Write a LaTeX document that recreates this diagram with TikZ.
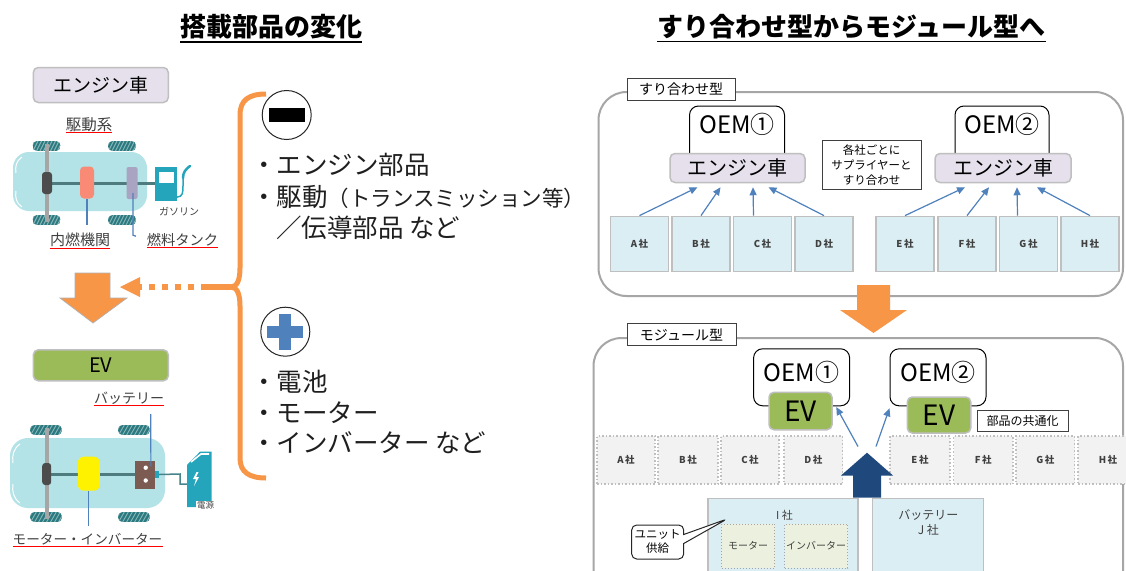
\documentclass[tikz,border=0pt]{standalone}
\usepackage{fontspec}
\setmainfont{Noto Sans CJK JP}
\usetikzlibrary{arrows.meta,calc,shapes.callouts}

\definecolor{orng}{HTML}{F79646}
\definecolor{navy}{HTML}{1F497D}
\definecolor{steel}{HTML}{4F81BD}
\definecolor{lav}{HTML}{E5E0EC}
\definecolor{grn}{HTML}{9BBB59}
\definecolor{pale}{HTML}{DBEEF4}
\definecolor{beige}{HTML}{EBF1DE}
\definecolor{panelgray}{HTML}{A6A6A6}
\definecolor{boxgray}{HTML}{BFBFBF}
\definecolor{txtgray}{HTML}{404040}
\definecolor{carbody}{HTML}{B3E3E7}
\definecolor{tyrec}{HTML}{2B7A80}
\definecolor{shaftc}{HTML}{4E7B7E}
\definecolor{pumpc}{HTML}{24A5BC}
\definecolor{enginec}{HTML}{F98B76}
\definecolor{tankc}{HTML}{A9A4C1}
\definecolor{battc}{HTML}{7B5B52}
\definecolor{motorc}{HTML}{FFF200}

\newcommand\fsz[2]{\fontsize{#1}{#2}\selectfont}

\begin{document}
\begin{tikzpicture}[x=1pt,y=-1pt,
  title/.style={font=\fsz{26}{30}\bfseries, inner xsep=0, inner ysep=2pt},
  ulbl/.style={font=\fsz{#1}{#1}, text=txtgray, inner xsep=0, inner ysep=1pt},
  redul/.style={draw=red, line width=1},
  lavbox/.style={rectangle, rounded corners=5pt, fill=lav, draw=boxgray, line width=1.5, inner sep=0},
  grnbox/.style={rectangle, rounded corners=5pt, fill=grn, draw=boxgray, line width=1.5, inner sep=0},
  oembox/.style={rectangle, rounded corners=9pt, fill=white, draw=black, line width=1, inner sep=0, font=\fsz{24}{28}},
  tagbox/.style={rectangle, fill=white, draw=txtgray, line width=1, inner sep=0, font=\fsz{14}{16}},
  supbox/.style={rectangle, fill=pale, draw=boxgray, line width=1.2, inner sep=0,
                 minimum width=58, minimum height=55, font=\fsz{9.5}{10}\bfseries, text=txtgray},
  dotbox/.style={rectangle, fill=black!5, draw=boxgray, dotted, line width=1.5, inner sep=0,
                 minimum height=48, font=\fsz{9.5}{10}\bfseries, text=txtgray},
  unitbox/.style={rectangle, fill=pale, draw=boxgray, line width=1.2, inner sep=0},
  partbox/.style={rectangle, fill=beige, draw=panelgray, dotted, line width=1, inner sep=0,
                  minimum height=44, font=\fsz{10}{12}, text=txtgray},
  panel/.style={rectangle, draw=panelgray, line width=2, rounded corners=28pt, inner sep=0},
  feed/.style={draw=steel, line width=1.2, -{Triangle[length=8pt,width=7pt]}},
  lead/.style={draw=steel, line width=1.2},
  listtxt/.style={anchor=west, inner sep=0, font=\fsz{25.5}{28}, text=black!88},
  wheelpic/.pic={
    \begin{scope}
      \clip[rounded corners=4.5pt] (-14,-5) rectangle (14,5);
      \fill[tyrec] (-14,-5) rectangle (14,5);
      \foreach \s in {-18,-14.5,...,18} \draw[white!45!tyrec, line width=0.9] (\s-2.5,5) -- (\s+2.5,-5);
    \end{scope}
  }
]
\clip (0,0) rectangle (1126,570);
\fill[white] (0,0) rectangle (1126,570);

% ---------------- headings ----------------
\node[title] (t1) at (271,27) {搭載部品の変化};
\draw[line width=1.8] (t1.south west) -- (t1.south east);
\node[title] (t2) at (851.5,27) {すり合わせ型からモジュール型へ};
\draw[line width=1.8] (t2.south west) -- (t2.south east);

% ---------------- engine car ----------------
\node[lavbox, minimum width=135, minimum height=35, font=\fsz{19}{22}] (ecar) at (100.8,85) {エンジン車};
\node[ulbl=15.5] (kudo) at (89,124.5) {駆動系};
\draw[redul] (kudo.south west) -- (kudo.south east);

\foreach \wx/\wy in {46.5/146, 122/146, 46.5/220, 122/220}
  \pic at (\wx,\wy) {wheelpic};
\fill[carbody, rounded corners=16pt] (13,152) rectangle (147,211);
\draw[white, line width=1] (22,157) .. controls (16,161) and (15,167) .. (16,173);
\draw[white, line width=1] (16,191) .. controls (15,197) and (16,203) .. (22,207);
\draw[black!35, line width=4] (46.5,144) -- (46.5,222);
\draw[shaftc, line width=3] (47,183) -- (155,183);
\node[rectangle, fill=black!70, rounded corners=3pt, minimum width=10, minimum height=22, inner sep=0] (diffa) at (47,183) {};
\node[rectangle, fill=enginec, rounded corners=4pt, minimum width=14, minimum height=32, inner sep=0] (eng) at (87,182.5) {};
\node[rectangle, fill=tankc, rounded corners=2pt, minimum width=11, minimum height=32, inner sep=0] (tank) at (132,183) {};
% fuel pump
\node[rectangle, fill=pumpc, minimum width=22, minimum height=34, inner sep=0] (pump) at (165.5,184) {};
\node[rectangle, fill=white, minimum width=15, minimum height=11, inner sep=0] (pwin) at (166.5,177.5) {};
\draw[pumpc, line width=1.5] (pump.south east) ++(0,-4) .. controls (183,197) and (183,192) .. (183,186) -- (183,178);
\draw[pumpc, line width=2.5, line cap=round] (183,178) .. controls (183,172) and (186,169) .. (190,166);
\node[font=\fsz{10}{12}, text=txtgray, inner sep=0] (gas) at (179,212) {ガソリン};

\draw[lead] (eng.south) -- ++(0,26);
\draw[lead] ($(tank.south)+(1,-6)$) -- ++(0,42) -- ++(3,1);
\node[ulbl=15] (nainen) at (80,240) {内燃機関};
\draw[redul] (nainen.south west) -- (nainen.south east);
\node[ulbl=14.3] (nenryo) at (182.5,240) {燃料タンク};
\draw[redul] (nenryo.south west) -- (nenryo.south east);

% ---------------- change arrow ----------------
\fill[orng, draw=black!30, line width=0.7] (75,273) -- (110,273) -- (110,298) -- (127,298) -- (93,323) -- (60,298) -- (75,298) -- cycle;

% ---------------- EV ----------------
\node[grnbox, minimum width=135, minimum height=31, font=\fsz{20}{24}] (evl) at (100.8,365.3) {EV};
\node[ulbl=14] (batl) at (129,398.5) {バッテリー};
\draw[redul] (batl.south west) -- (batl.south east);

\foreach \wx/\wy in {46/430, 134/430, 46/517, 134/517}
  \pic[xscale=1.14] at (\wx,\wy) {wheelpic};
\fill[carbody, rounded corners=18pt] (10,438) rectangle (165,508);
\draw[white, line width=1] (20,444) .. controls (13,449) and (12,456) .. (13,463);
\draw[white, line width=1] (13,484) .. controls (12,491) and (13,498) .. (20,503);
\draw[black!35, line width=4] (46.7,428) -- (46.7,519);
\draw[shaftc, line width=3] (47,474) -- (158,474);
\node[rectangle, fill=black!70, rounded corners=3pt, minimum width=9, minimum height=22, inner sep=0] (diffb) at (46.7,474) {};
\node[rectangle, fill=motorc, rounded corners=6pt, minimum width=22, minimum height=34, inner sep=0] (mot) at (88.8,473.7) {};
\node[rectangle, fill=battc, minimum width=20, minimum height=28, inner sep=0] (batt) at (145,474.5) {};
\fill[white] (145.7,467.7) circle (2.2) (145.7,480.5) circle (2.2);
\fill[pumpc] (batt.east) ++(0,-3.5) rectangle ++(4,7);
\draw[shaftc!80!pumpc, line width=1.5] (batt.east) ++(4,0) -- (180,474) -- (180,484) -- (188,484);
% charging post
\fill[pumpc] (187,465) -- (200,451.7) -- (211.7,451.7) -- (211.7,507) -- (187,507) -- cycle;
\draw[white, line width=1.6] (191,462) -- (201,454) -- (209,454);
\fill[white] (196.5,472) -- (193,479) -- (196,479) -- (194,486) -- (199,477) -- (196,477) -- (198.5,472) -- cycle;
\node[fill=white, inner sep=0.6, font=\fsz{8.5}{9}, text=txtgray] (dengen) at (205.5,505.5) {電源};

\coordinate (bleadtop) at (150.7,414);
\draw[lead] (bleadtop) -- ($(batt.north east)+(-4.3,6)$);
\draw[lead] (mot.south) -- ++(0,35);
\node[ulbl=13.6] (motinv) at (87.5,539.5) {モーター・インバーター};
\draw[redul] (motinv.south west) -- (motinv.south east);

% ---------------- brace and lists ----------------
\draw[orng, line width=5]
  (266,94) .. controls (249,94) and (240,100) .. (240,115) -- (240,268)
  .. controls (240,280) and (237,287) .. (231,287)
  .. controls (237,287) and (240,294) .. (240,306) -- (240,458)
  .. controls (240,472) and (249,478) .. (266,478);
\coordinate (btip) at (231,287);
\coordinate (dstart) at (207,287);
\coordinate (dend) at (140,287);
\draw[orng, line width=6] (btip) -- (dstart);
\draw[orng, line width=6, dash pattern=on 6pt off 7pt] (dstart) -- (dend);
\fill[orng] (dend) ++(0,-10) -- ++(-20,10) -- ++(20,10) -- cycle;

\node[circle, draw=black!85, line width=1, fill=white, minimum size=49, inner sep=0] (minus) at (286.7,115) {};
\fill[black] ($(minus.center)+(-18,-7)$) rectangle ($(minus.center)+(18,7)$);
\node[listtxt] (m1) at (251,165) {・エンジン部品};
\node[listtxt] (m2) at (251,196.5) {・駆動{\fsz{21.5}{24}（トランスミッション等）}};
\node[listtxt] (m3) at (276,228) {／伝導部品 など};

\node[circle, draw=black!85, line width=1, fill=white, minimum size=49, inner sep=0] (plus) at (285.3,331.7) {};
\fill[steel] ($(plus.center)+(-18,-6)$) rectangle ($(plus.center)+(18,6)$);
\fill[steel] ($(plus.center)+(-6,-18)$) rectangle ($(plus.center)+(6,18)$);
\node[listtxt] (p1) at (251,382) {・電池};
\node[listtxt] (p2) at (251,412.5) {・モーター};
\node[listtxt] (p3) at (251,443) {・インバーター など};

% ---------------- integral type ----------------
\node[panel, minimum width=524.5, minimum height=204] (ptop) at (860.75,194) {};
\node[tagbox, minimum width=108, minimum height=22] (tagA) at (681,89.6) {すり合わせ型};

\node[oembox, minimum width=95, minimum height=60, text depth=26pt] (oa) at (737,136) {OEM①};
\node[lavbox, minimum width=135, minimum height=29, font=\fsz{20}{24}] (ea) at (737.5,168) {エンジン車};
\node[oembox, minimum width=94, minimum height=60, text depth=26pt] (ob) at (1002,136) {OEM②};
\node[lavbox, minimum width=136, minimum height=29, font=\fsz{20}{24}] (eb) at (1003,168) {エンジン車};
\node[rectangle, draw=txtgray, line width=1, fill=white, minimum width=99, minimum height=49, inner sep=0,
      align=center, font=\fsz{11.5}{15}] (note) at (871.5,165) {各社ごとに\\サプライヤーと\\すり合わせ};

\foreach \n/\cx in {A/639.5, B/701, C/762.5, D/824, E/905, F/967, G/1028.5, H/1090}
  \node[supbox] (s\n) at (\cx,243.7) {\n\,社};

\draw[feed] (sA.north) -- ($(ea.south)+(-40,4)$);
\draw[feed] (sB.north) -- ($(ea.south)+(-17,4)$);
\draw[feed] ($(sC.north)+(-9,0)$) -- ($(ea.south)+(15.5,4)$);
\draw[feed] (sD.north) -- ($(ea.south)+(31,4)$);
\draw[feed] (sE.north) -- ($(eb.south)+(-38,4)$);
\draw[feed] (sF.north) -- ($(eb.south)+(-14,4)$);
\draw[feed] ($(sG.north)+(-11,0)$) -- ($(eb.south)+(14,4)$);
\draw[feed] (sH.north) -- ($(eb.south)+(34,4)$);

% transition arrow
\fill[orng] (857,285) -- (890,285) -- (890,310) -- (907,310) -- (873.5,333) -- (840,310) -- (857,310) -- cycle;

% ---------------- modular type ----------------
\node[panel, minimum width=529.5, minimum height=282] (pbot) at (858.25,479) {};
\node[tagbox, minimum width=109, minimum height=22] (tagB) at (681.5,334.7) {モジュール型};

\node[oembox, minimum width=96, minimum height=57, text depth=12pt] (oc) at (801.6,377.3) {OEM①};
\node[grnbox, minimum width=63, minimum height=37.5, font=\fsz{28}{30}] (evc) at (800.5,411) {EV};
\node[oembox, minimum width=96, minimum height=57, text depth=12pt] (od) at (938,377.3) {OEM②};
\node[grnbox, minimum width=63.5, minimum height=36, font=\fsz{28}{30}] (evd) at (939,415) {EV};
\node[rectangle, draw=txtgray, line width=1, fill=white, minimum width=91, minimum height=20.5, inner sep=0,
      font=\fsz{12}{14}] (common) at (1022.5,421) {部品の共通化};

\foreach \n/\cx/\w in {A/626/58, B/688/60, C/750/58, D/813.3/58.6, E/920/60, F/983.3/59.5, G/1045.3/58.6, H/1108/60}
  \node[dotbox, minimum width=\w] (d\n) at (\cx,460) {\n\,社};

\node[unitbox, minimum width=150, minimum height=110] (icorp) at (783,553.4) {};
\node[font=\fsz{11}{13}, text=txtgray, inner sep=0] (ilabel) at (784.5,515) {I 社};
\node[partbox, minimum width=53] (motor) at (748,546) {モーター};
\node[partbox, minimum width=63] (inv) at (816,546) {インバーター};
\node[unitbox, minimum width=111, minimum height=110, align=center, font=\fsz{12}{15}, text=txtgray,
      text depth=62pt] (jcorp) at (928.3,553.4) {バッテリー\\J 社};

% supply arrow
\fill[navy] (853,497.7) -- (853,475.5) -- (841,475.5) -- (867,452.7) -- (893,475.5) -- (881,475.5) -- (881,497.7) -- cycle;
\coordinate (upl) at (858,446.5);
\coordinate (upr) at (876,446.5);
\draw[feed] (upl) -- ($(evc.east)+(3.5,-4)$);
\draw[feed] (upr) -- ($(od.south west)+(0,2)$);

\node[rectangle callout, callout absolute pointer={(727,519)}, callout pointer width=9pt,
      rounded corners=5pt, draw=black!85, line width=1, fill=white, minimum width=52, minimum height=34,
      inner sep=0, align=center, font=\fsz{11.5}{14}] (unit) at (657.7,542) {ユニット\\供給};
\end{tikzpicture}
\end{document}
